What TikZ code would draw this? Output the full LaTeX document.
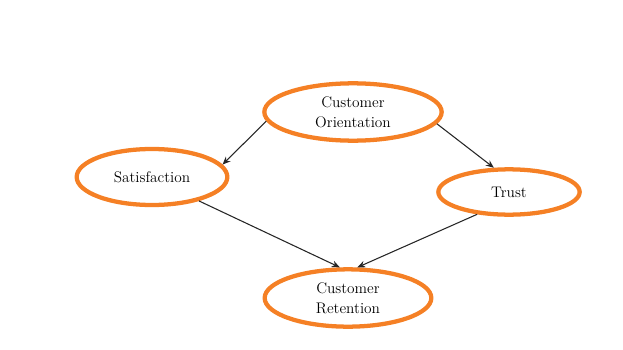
\documentclass[tikz,border=0pt]{standalone}
\usetikzlibrary{shapes.geometric,arrows.meta}
\definecolor{ringorange}{RGB}{245,128,37}
\tikzset{
  ring/.style={ellipse,draw=ringorange,line width=3.2pt,inner sep=0pt,align=center,
    font={\fontsize{11.5}{15}\selectfont}},
  link/.style={-{Stealth[length=6pt,width=5pt]},line width=.8pt,draw=black!85}
}
\begin{document}
\begin{tikzpicture}[x=.75pt,y=-.75pt]
  \useasboundingbox (0,0) rectangle (623,349);
  \node[ring,minimum width=133pt,minimum height=43pt] (orient) at (353,112) {Customer\\Orientation};
  \node[ring,minimum width=113pt,minimum height=42pt] (satis) at (152,177) {Satisfaction};
  \node[ring,minimum width=106pt,minimum height=34pt] (trust) at (509,192) {Trust};
  \node[ring,minimum width=125pt,minimum height=43pt] (retain) at (348,298) {Customer\\Retention};
  \draw[link] (orient.186) -- (satis.10);
  \draw[link] (orient.352) -- (trust.122);
  \draw[link] (satis.333) -- (retain.105);
  \draw[link] (trust.215) -- (retain.73);
\end{tikzpicture}
\end{document}
